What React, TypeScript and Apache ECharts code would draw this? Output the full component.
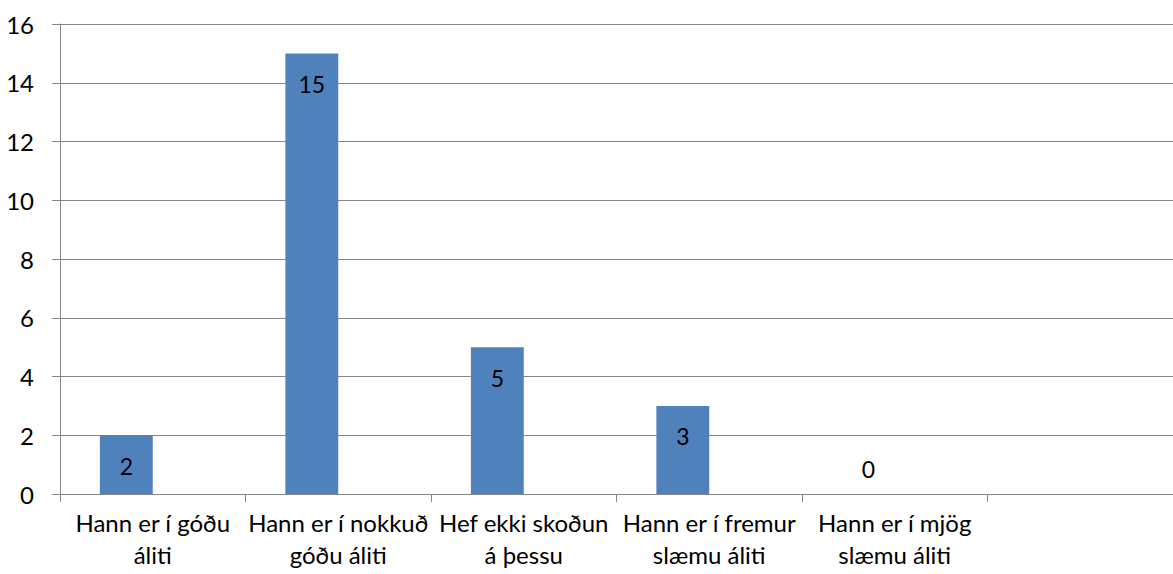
import React, { useEffect, useRef } from "react";
import * as echarts from "echarts";

const categories: string[] = [
  "Hann er í góðu\náliti",
  "Hann er í nokkuð\ngóðu áliti",
  "Hef ekki skoðun\ná þessu",
  "Hann er í fremur\nslæmu áliti",
  "Hann er í mjög\nslæmu áliti",
  "",
];
const values: (number | null)[] = [2, 15, 5, 3, 0, null];
const emptySeries: (number | null)[] = [null, null, null, null, null, null];
const yMin = 0;
const yMax = 16;
const yInterval = 2;

const FONT = "Lato";
const GRID_COLOR = "#868686";

export default function App() {
  const ref = useRef<HTMLDivElement>(null);
  useEffect(() => {
    if (!ref.current) return;
    const chart = echarts.init(ref.current, undefined, { renderer: "svg" });
    chart.setOption({
      animation: false,
      textStyle: { fontFamily: FONT },
      grid: { left: 60, top: 24, width: 1120, height: 470, containLabel: false },
      xAxis: {
        type: "category",
        data: categories,
        axisLine: { show: true, lineStyle: { color: GRID_COLOR, width: 1 } },
        axisTick: { show: true, length: 8, alignWithLabel: false, lineStyle: { color: GRID_COLOR } },
        axisLabel: {
          interval: 0,
          color: "#000",
          fontFamily: FONT,
          fontSize: 24,
          lineHeight: 32,
          margin: 12,
        },
        splitLine: { show: false },
      },
      yAxis: {
        type: "value",
        min: yMin,
        max: yMax,
        interval: yInterval,
        axisLine: { show: true, lineStyle: { color: GRID_COLOR, width: 1 } },
        axisTick: { show: true, length: 8, lineStyle: { color: GRID_COLOR } },
        axisLabel: { color: "#000", fontFamily: FONT, fontSize: 24, margin: 26 },
        splitLine: { show: true, lineStyle: { color: GRID_COLOR, width: 1 } },
      },
      series: [
        {
          type: "bar",
          data: values.map((v) =>
            v === 0
              ? { value: v, label: { position: "top", distance: 14 } }
              : v
          ),
          itemStyle: { color: "#4F81BD" },
          barGap: "0%",
          barCategoryGap: "43%",
          label: {
            show: true,
            position: "insideTop",
            distance: 19,
            color: "#000",
            fontFamily: FONT,
            fontSize: 23,
          },
        },
        {
          type: "bar",
          data: emptySeries,
          itemStyle: { color: "#C0504D" },
          barGap: "0%",
          barCategoryGap: "43%",
        },
      ],
    });
    return () => chart.dispose();
  }, []);
  return (
    <div
      ref={ref}
      style={{ position: "fixed", left: 0, top: 0, width: 1173, height: 574, background: "#fff" }}
    />
  );
}
